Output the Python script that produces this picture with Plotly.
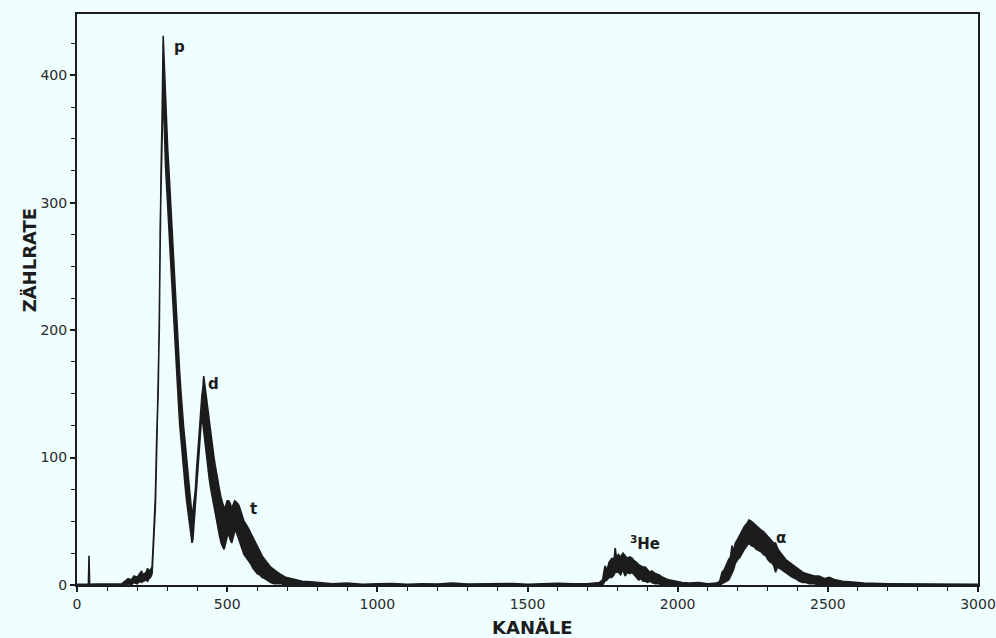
import plotly.graph_objects as go

# Spectrum of a particle telescope: counts per channel.
# The statistical scatter of the counts is drawn as a band between
# the lower and upper envelope of the recorded trace.
kanal = [0, 20, 38, 40, 42, 60, 100, 140,
         150, 160, 170, 180, 190, 200, 210, 215, 220, 230, 235, 240, 245, 250,
         255, 261, 266, 270, 274, 277, 280, 283, 286, 287, 289, 292, 295, 298,
         302, 306, 310, 314, 318, 322, 326, 330, 334, 338, 342, 346, 350, 355,
         360, 365, 370, 375, 380, 383, 386, 390, 394, 398, 402, 406, 409, 413,
         416, 419, 422, 425, 428, 432, 436, 440, 445, 450, 455, 460, 465, 470,
         475, 480, 485, 490, 495, 500, 505, 510, 515, 520, 525, 530, 535, 540,
         545, 550, 556, 562, 568, 574, 580, 586, 592, 600, 608, 616, 625, 634,
         645, 656, 667, 680, 695, 712, 730, 750, 778, 800, 850, 900, 950, 1000,
         1050, 1100, 1150, 1200, 1250, 1300, 1350, 1400, 1450, 1500, 1550, 1600,
         1650, 1700, 1740, 1750, 1758, 1765, 1772, 1781, 1788, 1792, 1796, 1803,
         1810, 1818, 1825, 1832, 1840, 1848, 1855, 1862, 1870, 1878, 1885, 1892,
         1900, 1907, 1914, 1925, 1937, 1950, 1970, 1990, 2015, 2040, 2070, 2100,
         2130, 2140, 2148, 2155, 2162, 2170, 2176, 2181, 2186, 2192, 2200, 2208,
         2215, 2222, 2230, 2237, 2245, 2254, 2262, 2270, 2278, 2285, 2293, 2300,
         2308, 2315, 2320, 2326, 2332, 2340, 2349, 2360, 2371, 2382, 2393, 2405,
         2416, 2427, 2438, 2455, 2471, 2490, 2505, 2525, 2549, 2570, 2593, 2620,
         2700, 2800, 2900, 3000]

unten = [0, 0, 0, 0, 0, 0, 0, 0,
         0, 0, 1, 0, 2, 1, 3, 2, 3, 4, 3, 5, 6, 9,
         30, 62, 114, 140, 200, 280, 318, 350, 380, 395, 375, 350, 328, 312,
         296, 280, 262, 242, 224, 205, 190, 175, 158, 142, 126, 113, 102, 90,
         78, 66, 56, 46, 38, 33, 36, 48, 60, 76, 88, 102, 113, 126,
         133, 128, 124, 118, 110, 100, 92, 84, 76, 70, 62, 55, 50, 44,
         38, 33, 30, 28, 32, 38, 40, 36, 33, 38, 42, 42, 40, 36,
         32, 28, 24, 22, 20, 18, 16, 13, 11, 9, 8, 6, 5, 4,
         2, 1, 1, 1, 0, 0, 0, 0, 0, 0, 0, 0, 0, 0,
         0, 0, 0, 0, 0, 0, 0, 0, 0, 0, 0, 0,
         0, 0, 0, 0, 3, 4, 6, 6, 8, 10, 10, 10,
         8, 12, 7, 10, 9, 10, 8, 6, 4, 5, 3, 3,
         2, 3, 2, 1, 1, 0, 0, 0, 0, 0, 0, 0,
         0, 0, 1, 2, 3, 4, 7, 9, 12, 17, 20, 22,
         25, 28, 31, 33, 31, 30, 28, 27, 26, 24, 23, 20,
         18, 17, 15, 10, 14, 13, 12, 10, 8, 6, 5, 3,
         2, 2, 1, 1, 0, 0, 0, 0, 0, 0, 0, 0,
         0, 0, 0, 0]

oben = [0.5, 0.8, 0.5, 23, 0.5, 0.8, 0.6, 0.8,
        1, 3, 5, 4, 7, 6, 9, 11, 8, 10, 13, 11, 12, 14,
        38, 70, 122, 148, 208, 290, 326, 362, 410, 431, 418, 400, 375, 356,
        342, 326, 308, 290, 270, 252, 230, 214, 200, 183, 166, 152, 138, 124,
        112, 100, 86, 74, 62, 54, 58, 66, 74, 90, 100, 116, 126, 142,
        149, 154, 164, 158, 152, 146, 138, 128, 120, 110, 102, 94, 86, 80,
        74, 68, 64, 60, 62, 66, 66, 64, 60, 64, 66, 65, 64, 62,
        58, 55, 50, 48, 46, 43, 40, 37, 34, 30, 26, 23, 20, 17,
        14, 12, 10, 8, 6, 5, 4, 3, 2.5, 2, 1, 1.5, 0.5, 1,
        1.2, 0.6, 1, 0.8, 1.5, 0.7, 1, 0.8, 1.2, 0.6, 1, 1.4,
        1, 1, 2, 4, 15, 12, 18, 21, 20, 29, 22, 24,
        22, 25, 23, 21, 22, 21, 19, 18, 16, 15, 14, 14,
        12, 10, 11, 9, 8, 6, 4, 3, 2, 1.5, 2, 1,
        1.5, 3, 10, 12, 16, 20, 22, 31, 26, 33, 36, 40,
        43, 46, 48, 51, 50, 48, 46, 44, 43, 42, 40, 38,
        36, 34, 33, 33, 29, 26, 23, 20, 18, 16, 14, 12,
        10, 9, 8, 7, 7, 5, 6, 4, 3, 2.5, 2, 1.5,
        1, 1, 0.8, 0.5]

# Peak labels: (channel, count rate, text)
peak_kanal = [340, 453, 587, 1891, 2343]
peak_rate = [422, 158, 60, 33, 37]
peak_text = ["p", "d", "t", "<sup>3</sup>He", "α"]

x_ticks = [0, 500, 1000, 1500, 2000, 2500, 3000]
y_ticks = [0, 100, 200, 300, 400]

INK = "#1c1c1c"
BG = "#effefe"

fig = go.Figure()

# Band of the noisy trace (upper envelope forward, lower envelope back)
fig.add_trace(go.Scatter(
    x=kanal + kanal[::-1],
    y=oben + unten[::-1],
    mode="lines",
    fill="toself",
    fillcolor=INK,
    line=dict(color=INK, width=1.6),
    hoverinfo="skip",
    showlegend=False,
))

for xk, yk, txt in zip(peak_kanal, peak_rate, peak_text):
    fig.add_annotation(
        x=xk, y=yk, text=f"<b>{txt}</b>", showarrow=False,
        font=dict(family="DejaVu Sans", size=15, color=INK),
        xanchor="center", yanchor="middle",
    )

# Axis titles
fig.add_annotation(
    xref="paper", yref="paper", x=-0.0525, y=0.568,
    xanchor="center", yanchor="middle",
    text="<b>ZÄHLRATE</b>", textangle=-90, showarrow=False,
    font=dict(family="DejaVu Sans", size=18, color=INK),
)
fig.add_annotation(
    xref="paper", yref="paper", x=0.505, y=-0.074,
    xanchor="center", yanchor="middle",
    text="<b>KANÄLE</b>", showarrow=False,
    font=dict(family="DejaVu Sans", size=18, color=INK),
)

axis_common = dict(
    showline=True, linecolor=INK, linewidth=2, mirror=True,
    showgrid=False, zeroline=False, automargin=False,
    ticks="outside", tickcolor=INK, ticklen=5, tickwidth=1.5,
    tickfont=dict(family="DejaVu Sans", size=14, color="#2a2a2a"),
)

fig.update_xaxes(
    range=[0, 3000], tickvals=x_ticks,
    minor=dict(dtick=100, ticks="outside", ticklen=4, tickcolor=INK, tickwidth=1.2),
    **axis_common,
)
fig.update_yaxes(
    range=[0, 448], tickvals=y_ticks,
    minor=dict(dtick=25, ticks="outside", ticklen=4, tickcolor=INK, tickwidth=1.2),
    **axis_common,
)

fig.update_layout(
    width=996, height=638,
    margin=dict(l=77, r=18, t=14, b=53),
    paper_bgcolor=BG, plot_bgcolor=BG,
    showlegend=False,
)

fig.write_html("out.html")
